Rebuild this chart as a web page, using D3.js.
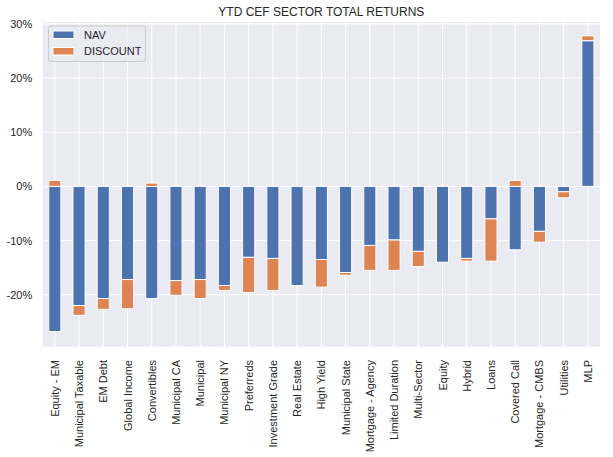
<!DOCTYPE html>
<html>
<head>
<meta charset="utf-8">
<script src="https://cdn.jsdelivr.net/npm/d3@7"></script>
<style>
  html, body { margin: 0; padding: 0; background: #ffffff; }
  svg { display: block; font-family: "Liberation Sans", Arial, sans-serif; }
</style>
</head>
<body>
<svg id="chart" width="613" height="457"></svg>
<script>
const categories = ["Equity - EM","Municipal Taxable","EM Debt","Global Income","Convertibles","Municipal CA","Municipal","Municipal NY","Preferreds","Investment Grade","Real Estate","High Yield","Municipal State","Mortgage - Agency","Limited Duration","Multi-Sector","Equity","Hybrid","Loans","Covered Call","Mortgage - CMBS","Utilities","MLP"];
const navValues = [-26.8,-22.0,-20.7,-17.2,-20.7,-17.4,-17.2,-18.3,-13.1,-13.3,-18.3,-13.5,-15.9,-10.9,-9.9,-12.0,-14.0,-13.3,-6.0,-11.7,-8.3,-1.0,26.9];
const discountValues = [1.1,-1.8,-2.0,-5.4,0.6,-2.7,-3.5,-0.9,-6.5,-5.9,0,-5.1,-0.5,-4.6,-5.6,-2.8,0,-0.5,-7.8,1.1,-2.0,-1.1,0.9];
const seriesNames = ["NAV","DISCOUNT"];
const yTicks = [-20,-10,0,10,20,30];
const title = "YTD CEF SECTOR TOTAL RETURNS";

const colors = {"NAV":"#4C72B0","DISCOUNT":"#DD8452"};
const margin = {left: 42.7, right: 600, top: 22, bottom: 346.5};
const svg = d3.select("#chart");

const x = d3.scaleBand().domain(categories).range([margin.left, margin.right]).paddingInner(0.5).paddingOuter(0.25);
const y = d3.scaleLinear().domain([-29.56, 30.35]).range([margin.bottom, margin.top]);

// background
svg.append("rect").attr("x", margin.left).attr("y", margin.top)
  .attr("width", margin.right - margin.left).attr("height", margin.bottom - margin.top)
  .attr("fill", "#EAEAF2");

// grid
const g = svg.append("g");
g.selectAll("line.h").data(yTicks).enter().append("line")
  .attr("x1", margin.left).attr("x2", margin.right)
  .attr("y1", d => y(d)).attr("y2", d => y(d))
  .attr("stroke", "#fff").attr("stroke-width", 1);
g.selectAll("line.v").data(categories).enter().append("line")
  .attr("y1", margin.top).attr("y2", margin.bottom)
  .attr("x1", d => x(d) + x.bandwidth()/2).attr("x2", d => x(d) + x.bandwidth()/2)
  .attr("stroke", "#fff").attr("stroke-width", 1);

// stacked data (positive and negative stacked separately)
const rows = categories.map((c, i) => ({cat: c, NAV: navValues[i], DISCOUNT: discountValues[i]}));
const stack = d3.stack().keys(seriesNames).offset(d3.stackOffsetDiverging);
const stacked = stack(rows);

const bars = svg.append("g");
stacked.forEach(layer => {
  bars.selectAll(null).data(layer).enter().append("rect")
    .attr("x", d => x(d.data.cat))
    .attr("width", x.bandwidth())
    .attr("y", d => y(Math.max(d[0], d[1])))
    .attr("height", d => Math.abs(y(d[0]) - y(d[1])))
    .attr("fill", colors[layer.key])
    .attr("stroke", "#fff").attr("stroke-width", 1);
});

// y axis labels
const yAxis = d3.axisLeft(y).tickValues(yTicks).tickSize(0).tickPadding(10.5).tickFormat(d => d + "%");
const ya = svg.append("g").attr("transform", `translate(${margin.left},0)`).call(yAxis);
ya.select(".domain").remove();
ya.selectAll("text").attr("fill", "#262626").style("font-size", "11px").style("font-family", '"Liberation Sans", Arial, sans-serif');

// x axis labels
const xAxis = d3.axisBottom(x).tickSize(0).tickPadding(0);
const xa = svg.append("g").attr("transform", `translate(0,${margin.bottom})`).call(xAxis);
xa.select(".domain").remove();
xa.selectAll("text")
  .attr("fill", "#262626").style("font-size", "11px").style("font-family", '"Liberation Sans", Arial, sans-serif')
  .attr("text-anchor", "end")
  .attr("dy", null)
  .attr("y", 0)
  .attr("transform", "translate(4, 13.5) rotate(-90)");

// title
svg.append("text").attr("x", (margin.left + margin.right)/2).attr("y", 15.5)
  .attr("text-anchor", "middle").attr("fill", "#262626").style("font-size", "12px")
  .text(title);

// legend
const lg = svg.append("g");
lg.append("rect").attr("x", 48.5).attr("y", 26).attr("width", 97).attr("height", 35.5)
  .attr("rx", 2.5).attr("fill", "#EAEAF2").attr("fill-opacity", 0.8).attr("stroke", "#cccccc").attr("stroke-width", 1);
seriesNames.forEach((s, i) => {
  lg.append("rect").attr("x", 53).attr("y", 31 + i*16.5).attr("width", 21).attr("height", 7.5)
    .attr("fill", colors[s]).attr("stroke", "#fff").attr("stroke-width", 1);
  lg.append("text").attr("x", 84).attr("y", 38.8 + i*16.5).attr("fill", "#262626")
    .style("font-size", "11px").text(s);
});
</script>
</body>
</html>
